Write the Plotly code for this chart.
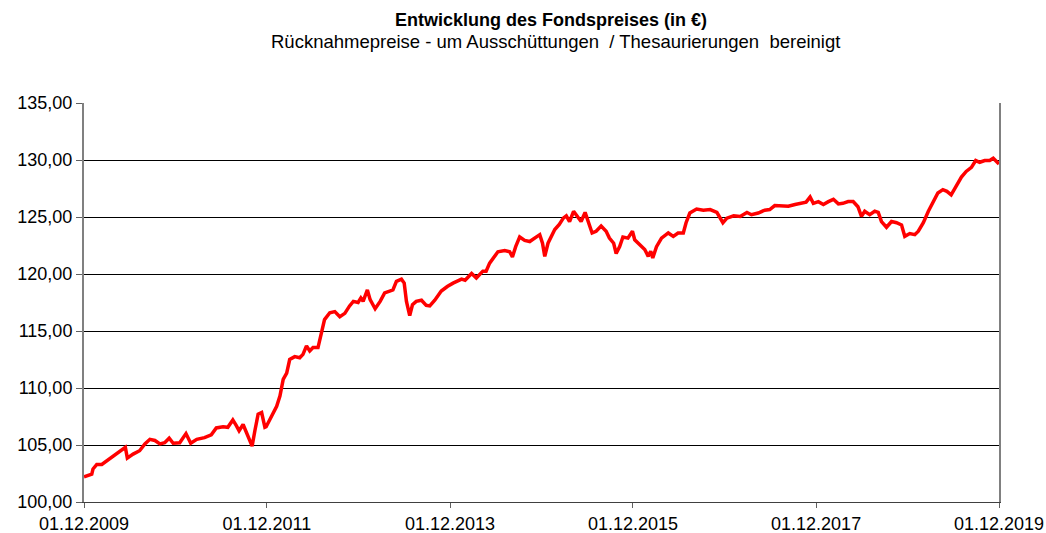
import plotly.graph_objects as go

dates = [
    "2009-12-01", "2010-01-01", "2010-01-06", "2010-01-21", "2010-02-10", "2010-03-01",
    "2010-03-26", "2010-04-22", "2010-05-05", "2010-05-15", "2010-05-23", "2010-06-15",
    "2010-07-11", "2010-08-01", "2010-08-21", "2010-09-10", "2010-09-30", "2010-10-19",
    "2010-11-06", "2010-11-22", "2010-12-18", "2011-01-12", "2011-01-31", "2011-02-24",
    "2011-03-27", "2011-04-23", "2011-05-13", "2011-06-09", "2011-06-28", "2011-07-18",
    "2011-08-01", "2011-08-12", "2011-08-28", "2011-09-11", "2011-09-24", "2011-10-03",
    "2011-10-14", "2011-10-27", "2011-11-10", "2011-11-23", "2011-11-28", "2011-12-13",
    "2012-01-09", "2012-01-22", "2012-02-04", "2012-02-18", "2012-03-01", "2012-03-21",
    "2012-04-10", "2012-04-23", "2012-05-07", "2012-05-20", "2012-06-02", "2012-06-22",
    "2012-07-05", "2012-07-18", "2012-08-08", "2012-08-28", "2012-09-17", "2012-10-07",
    "2012-10-26", "2012-11-10", "2012-11-29", "2012-12-10", "2012-12-19", "2013-01-05",
    "2013-01-16", "2013-02-05", "2013-02-25", "2013-03-15", "2013-04-04", "2013-04-17",
    "2013-05-01", "2013-05-21", "2013-06-01", "2013-06-10", "2013-06-23", "2013-07-04",
    "2013-07-19", "2013-08-09", "2013-08-28", "2013-09-11", "2013-10-01", "2013-10-27",
    "2013-11-20", "2013-12-13", "2014-01-16", "2014-01-30", "2014-02-25", "2014-03-16",
    "2014-04-11", "2014-04-24", "2014-05-08", "2014-05-28", "2014-06-10", "2014-07-07",
    "2014-07-27", "2014-08-07", "2014-08-20", "2014-09-05", "2014-09-25", "2014-10-15",
    "2014-11-04", "2014-11-24", "2014-12-05", "2014-12-14", "2014-12-27", "2015-01-23",
    "2015-02-10", "2015-02-26", "2015-03-10", "2015-03-23", "2015-04-08", "2015-04-25",
    "2015-05-08", "2015-05-24", "2015-06-08", "2015-06-21", "2015-07-07", "2015-07-27",
    "2015-08-16", "2015-08-29", "2015-09-15", "2015-09-25", "2015-10-09", "2015-10-22",
    "2015-11-11", "2015-11-29", "2015-12-08", "2015-12-28", "2016-01-17", "2016-01-31",
    "2016-02-10", "2016-02-18", "2016-03-04", "2016-03-24", "2016-04-20", "2016-05-10",
    "2016-05-29", "2016-06-19", "2016-06-30", "2016-07-15", "2016-08-11", "2016-09-07",
    "2016-10-04", "2016-10-31", "2016-11-13", "2016-11-24", "2016-12-10", "2017-01-06",
    "2017-02-01", "2017-02-28", "2017-03-18", "2017-04-14", "2017-05-10", "2017-05-30",
    "2017-06-19", "2017-07-16", "2017-08-12", "2017-09-08", "2017-10-05", "2017-10-22",
    "2017-11-07", "2017-11-20", "2017-12-10", "2017-12-30", "2018-01-19", "2018-02-08",
    "2018-02-28", "2018-03-18", "2018-04-08", "2018-04-28", "2018-05-17", "2018-05-31",
    "2018-06-13", "2018-07-03", "2018-07-23", "2018-08-06", "2018-08-19", "2018-09-08",
    "2018-09-28", "2018-10-18", "2018-11-07", "2018-11-20", "2018-12-10", "2018-12-30",
    "2019-01-13", "2019-02-02", "2019-02-22", "2019-03-12", "2019-04-01", "2019-04-21",
    "2019-05-07", "2019-05-24", "2019-06-14", "2019-07-04", "2019-07-23", "2019-08-13",
    "2019-08-30", "2019-09-15", "2019-10-05", "2019-10-25", "2019-11-08", "2019-11-21",
    "2019-12-01",
]

prices = [
    102.2, 102.45, 102.9, 103.3, 103.3, 103.6,
    104.05, 104.4, 104.6, 104.8, 103.85, 104.2,
    104.5, 105.1, 105.5, 105.4, 105.1, 105.2,
    105.6, 105.15, 105.2, 106.0, 105.15, 105.5,
    105.65, 105.9, 106.5, 106.6, 106.55, 107.2,
    106.7, 106.25, 106.8, 106.1, 105.4, 104.9,
    106.25, 107.7, 107.85, 106.55, 106.6, 107.3,
    108.4, 109.3, 110.75, 111.3, 112.5, 112.75,
    112.65, 112.95, 113.7, 113.25, 113.55, 113.55,
    114.85, 116.0, 116.6, 116.7, 116.25, 116.55,
    117.2, 117.6, 117.5, 117.9, 117.6, 118.6,
    117.75, 116.95, 117.6, 118.35, 118.5, 118.6,
    119.35, 119.55, 119.2, 117.6, 116.35, 117.3,
    117.6, 117.7, 117.25, 117.2, 117.7, 118.5,
    118.9, 119.2, 119.55, 119.45, 120.05, 119.65,
    120.25, 120.25, 120.95, 121.55, 121.95, 122.05,
    121.95, 121.5, 122.4, 123.25, 122.95, 122.85,
    123.15, 123.45, 122.7, 121.55, 122.7, 123.9,
    124.35, 124.9, 125.1, 124.6, 125.5, 125.05,
    124.6, 125.4, 124.35, 123.6, 123.75, 124.2,
    123.75, 123.15, 122.7, 121.8, 122.4, 123.25,
    123.15, 123.75, 123.0, 122.6, 122.15, 121.55,
    122.0, 121.4, 122.4, 123.15, 123.6, 123.3,
    123.6, 123.6, 124.5, 125.35, 125.7, 125.6,
    125.65, 125.4, 124.9, 124.5, 124.9, 125.1,
    125.05, 125.4, 125.2, 125.35, 125.6, 125.65,
    126.0, 125.95, 125.95, 126.1, 126.2, 126.3,
    126.75, 126.2, 126.35, 126.1, 126.35, 126.55,
    126.15, 126.2, 126.35, 126.35, 125.9, 125.05,
    125.5, 125.2, 125.5, 125.4, 124.6, 124.1,
    124.6, 124.5, 124.3, 123.3, 123.55, 123.45,
    123.75, 124.5, 125.5, 126.2, 127.1, 127.4,
    127.25, 126.95, 127.7, 128.5, 129.0, 129.35,
    129.95, 129.8, 129.95, 129.95, 130.15, 129.85,
    129.65,
]

x_tick_dates = ["2009-12-01", "2011-12-01", "2013-12-01", "2015-12-01", "2017-12-01", "2019-12-01"]
x_tick_labels = ["01.12.2009", "01.12.2011", "01.12.2013", "01.12.2015", "01.12.2017", "01.12.2019"]
y_ticks = [100, 105, 110, 115, 120, 125, 130, 135]

title_text = "<b>Entwicklung des Fondspreises (in €)</b>"
subtitle_text = "Rücknahmepreise - um Ausschüttungen &nbsp;/ Thesaurierungen &nbsp;bereinigt"

FONT = "Liberation Sans, Arial, sans-serif"

fig = go.Figure()
fig.add_trace(go.Scatter(
    x=dates, y=prices, mode="lines",
    line=dict(color="#FF0000", width=3.5),
    hoverinfo="x+y", showlegend=False,
))

fig.update_layout(
    width=1046, height=533,
    margin=dict(l=84, r=47, t=103, b=31),
    paper_bgcolor="white", plot_bgcolor="white",
    separators=",.",
    font=dict(family=FONT, color="black"),
    annotations=[
        dict(text=title_text, x=0.510, y=1.208, xref="paper", yref="paper",
             xanchor="center", yanchor="middle", showarrow=False,
             font=dict(size=18, family=FONT, color="black")),
        dict(text=subtitle_text, x=0.515, y=1.153, xref="paper", yref="paper",
             xanchor="center", yanchor="middle", showarrow=False,
             font=dict(size=18.5, family=FONT, color="black")),
    ],
)

fig.update_xaxes(
    type="date",
    range=["2009-12-01", "2019-12-01"],
    tickvals=x_tick_dates, ticktext=x_tick_labels,
    ticks="outside", ticklen=5, tickcolor="#606060", tickwidth=1,
    showgrid=False, zeroline=False,
    showline=True, linecolor="#404040", linewidth=1,
    tickfont=dict(size=18, family=FONT, color="black"),
    automargin=False,
)

fig.update_yaxes(
    range=[100, 135],
    tickvals=y_ticks, tickformat=".2f",
    ticks="outside", ticklen=6, tickcolor="#606060", tickwidth=1,
    showgrid=True, gridcolor="#000000", gridwidth=1,
    zeroline=False,
    showline=True, linecolor="#808080", linewidth=2, mirror=True,
    tickfont=dict(size=18, family=FONT, color="black"),
    automargin=False,
)

fig.write_html(
    "out.html",
    config={"displayModeBar": False},
    post_script="document.body.style.margin='0px';document.body.style.overflow='hidden';",
)
